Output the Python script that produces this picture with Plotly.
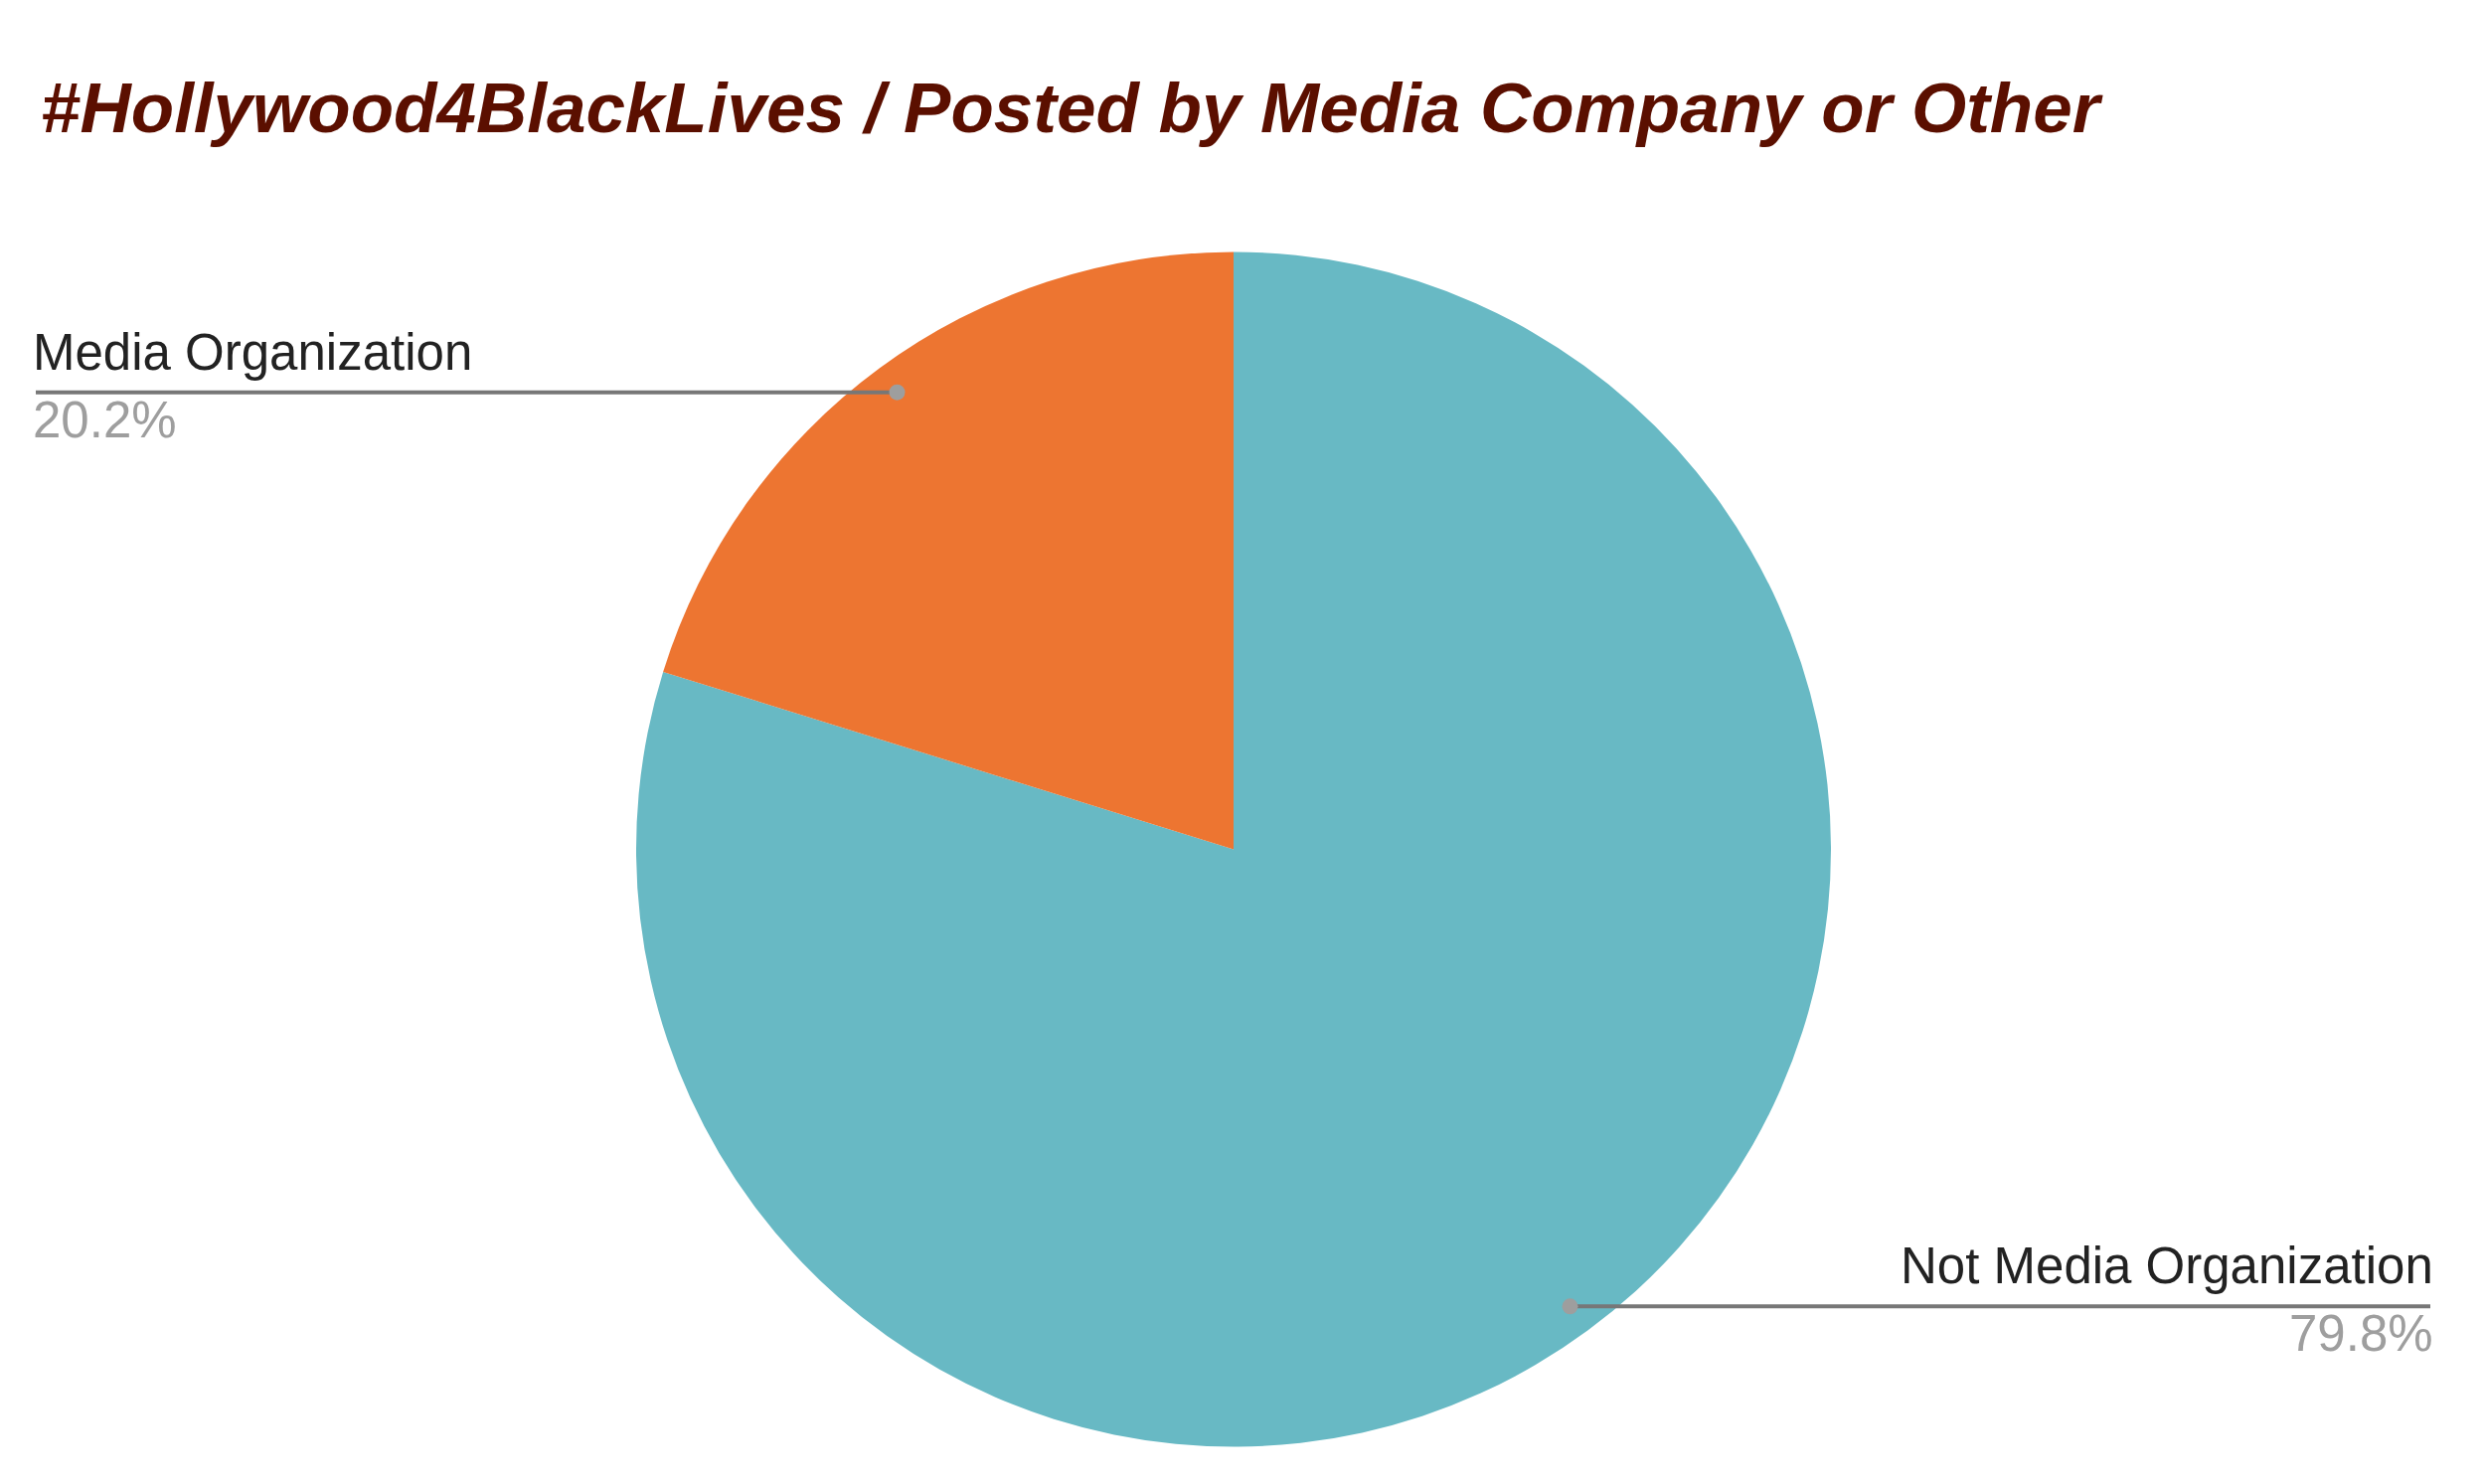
import math
import plotly.graph_objects as go

W, H = 2500, 1493

# drawn clockwise from 12 o'clock, like the original sheet chart
labels = ["Not Media Organization", "Media Organization"]
values = [79.8, 20.2]
colors = ["#68b9c4", "#ed7531"]
pct_text = ["79.8%", "20.2%"]
label_side = ["right", "left"]

# pie geometry in pixels
cx, cy, r = 1233, 846.5, 601

fig = go.Figure()
fig.add_trace(go.Pie(
    labels=labels, values=values, sort=False,
    direction="clockwise", rotation=0,
    marker=dict(colors=colors, line=dict(width=0)),
    textinfo="none", hoverinfo="label+percent",
    domain=dict(x=[(cx - r) / W, (cx + r) / W], y=[1 - (cy + r) / H, 1 - (cy - r) / H]),
))

def px(x):
    return x / W

def py(y):
    return 1 - y / H

# leader lines to the side labels, starting at each slice's middle angle
total = sum(values)
start = 0.0
for i, v in enumerate(values):
    ang = math.radians(start + 360 * v / total / 2)  # clockwise from 12 o'clock
    start += 360 * v / total
    dx = cx + 0.95 * r * math.sin(ang)
    dy = cy - 0.95 * r * math.cos(ang)
    if label_side[i] == "left":
        x0, x1, anchor, tx = 28, dx, "left", 23
    else:
        x0, x1, anchor, tx = dx, 2437, "right", 2442
    fig.add_shape(type="line", xref="paper", yref="paper",
                  x0=px(x0), x1=px(x1), y0=py(dy), y1=py(dy),
                  line=dict(color="#777777", width=4))
    fig.add_shape(type="circle", xref="paper", yref="paper",
                  x0=px(dx - 8), x1=px(dx + 8), y0=py(dy + 8), y1=py(dy - 8),
                  fillcolor="#9e9e9e", line=dict(width=0))
    fig.add_annotation(x=px(tx), y=py(dy - 10), xref="paper", yref="paper",
                       text=labels[i], showarrow=False, xanchor=anchor, yanchor="bottom",
                       font=dict(family="Liberation Sans, Arial", size=51, color="#222222"))
    fig.add_annotation(x=px(tx), y=py(dy - 3), xref="paper", yref="paper",
                       text=pct_text[i], showarrow=False, xanchor=anchor, yanchor="top",
                       font=dict(family="Liberation Sans, Arial", size=51, color="#9e9e9e"))

fig.update_layout(
    width=W, height=H,
    margin=dict(l=0, r=0, t=0, b=0),
    paper_bgcolor="white", plot_bgcolor="white",
    showlegend=False,
    title=dict(text="#Hollywood4BlackLives / Posted by Media Company or Other",
               x=33 / W, xanchor="left", y=1 - 100 / H, yanchor="middle",
               font=dict(family="Liberation Sans, Arial", size=71, color="#5b0f00",
                         weight="bold", style="italic")),
)

fig.write_html("out.html")
